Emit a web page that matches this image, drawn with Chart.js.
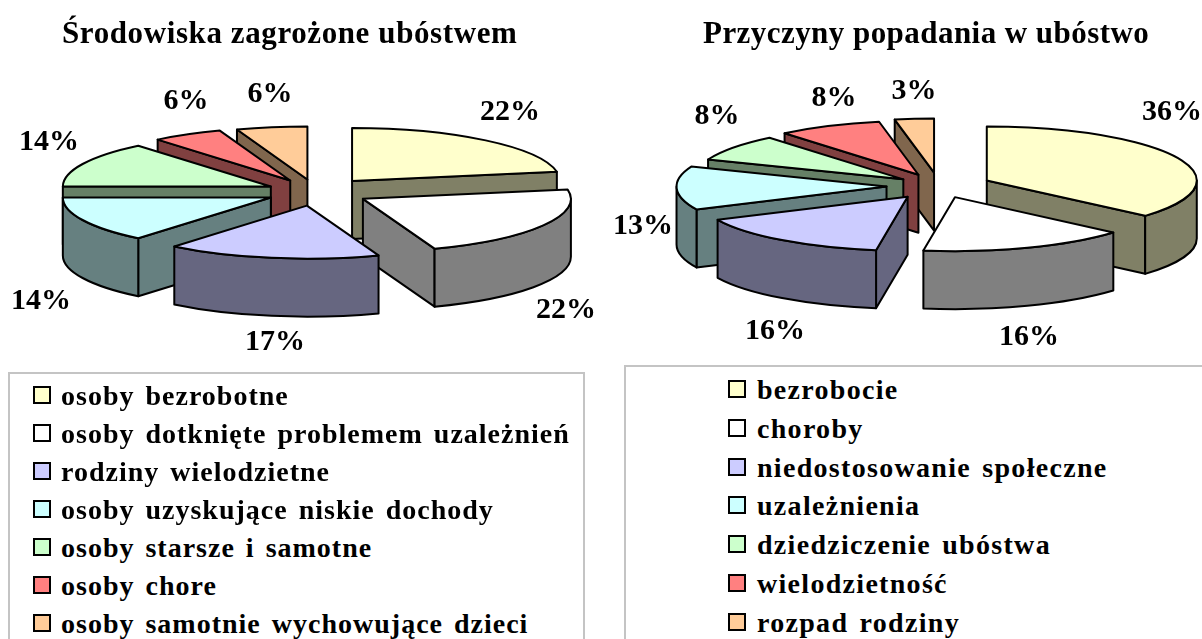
<!DOCTYPE html>
<html lang="pl">
<head>
<meta charset="utf-8">
<script src="https://cdn.jsdelivr.net/npm/chart.js@4/dist/chart.umd.js"></script>
<style>
html,body{margin:0;padding:0;background:#fff;width:1202px;height:639px;overflow:hidden;font-family:"Liberation Serif",serif;font-weight:bold;color:#000}
canvas{position:absolute;top:0}
.title{position:absolute;white-space:nowrap;font-size:31px;line-height:34px}
.box{position:absolute;border:2px solid #c4c4c4;background:#fff;box-sizing:border-box}
.row{position:absolute;white-space:nowrap;font-size:28px;line-height:30px;height:30px;word-spacing:3px}
.mark{position:absolute;width:18px;height:18px;border:2px solid #000;box-sizing:border-box}
</style>
</head>
<body>
<div class="box" style="left:8px;top:372px;width:577px;height:280px"></div>
<div class="box" style="left:624px;top:365px;width:590px;height:290px"></div>
<canvas id="c1"></canvas>
<canvas id="c2"></canvas>
<div id="html"></div>
<script>
const leftTitle = "Środowiska zagrożone ubóstwem";
const leftCategories = ["osoby bezrobotne","osoby dotknięte problemem uzależnień","rodziny wielodzietne","osoby uzyskujące niskie dochody","osoby starsze i samotne","osoby chore","osoby samotnie wychowujące dzieci"];
const leftValues = [22.2,22.2,16.6,14,14,5.5,5.5];

const rightTitle = "Przyczyny popadania w ubóstwo";
const rightCategories = ["bezrobocie","choroby","niedostosowanie społeczne","uzależnienia","dziedziczenie ubóstwa","wielodzietność","rozpad rodziny"];
const rightValues = [36.4,16,15.6,13,8,8,3];

const topColors = ["#FFFFCC","#FFFFFF","#CCCCFF","#CCFFFF","#CCFFCC","#FF8080","#FFCC99"];
const wallColors = ["#808066","#808080","#666680","#668080","#668066","#804040","#80664D"];

const leftExplode = [.27,.26,.26,.24,.24,.25,.24];
const rightExplode = [.25,.22,.25,.25,.21,.23,.25];

const leftLabelAnchors = [[510,112],[566,310],[275,342],[41,301],[49,142],[186,101],[270,94]];
const rightLabelAnchors = [[1172,112],[1029,337],[775,331],[643,226],[717,116],[834,98],[914,91]];

const leftRows = [396,434,472,510,548,586,624];
const rightRows = [390,429,468,506,545,584,623];

const pie3d = {
  id:'pie3d',
  beforeDatasetDraw(chart,args,opts){
    const ctx=chart.ctx, arcs=args.meta.data;
    const sq=opts.squash, depth=opts.depth;
    const order=arcs.map((el,i)=>({el,i})).sort((a,b)=>
      Math.sin((a.el.startAngle+a.el.endAngle)/2)-Math.sin((b.el.startAngle+b.el.endAngle)/2));
    ctx.save();
    ctx.lineWidth=2; ctx.lineJoin='round'; ctx.strokeStyle='#000';
    for(const {el,i} of order){
      const s=el.startAngle,e=el.endAngle,R=el.outerRadius,mid=(s+e)/2,k=opts.explode[i];
      const ax=el.x+Math.cos(mid)*k*R, ay=el.y+Math.sin(mid)*k*R*sq;
      const rx=a=>ax+Math.cos(a)*R, ry=a=>ay+Math.sin(a)*R*sq;
      ctx.fillStyle=wallColors[i];
      const radial=a=>{
        ctx.beginPath();ctx.moveTo(ax,ay);ctx.lineTo(rx(a),ry(a));
        ctx.lineTo(rx(a),ry(a)+depth);ctx.lineTo(ax,ay+depth);ctx.closePath();ctx.fill();ctx.stroke();
      };
      if(Math.cos(s)<0) radial(s);
      if(Math.cos(e)>0) radial(e);
      const lo=Math.max(s,0),hi=Math.min(e,Math.PI);
      if(hi>lo){
        ctx.beginPath();
        ctx.ellipse(ax,ay,R,R*sq,0,lo,hi);
        ctx.ellipse(ax,ay+depth,R,R*sq,0,hi,lo,true);
        ctx.closePath();ctx.fill();ctx.stroke();
      }
      ctx.save();
      ctx.translate(ax,ay);ctx.scale(1,sq);ctx.translate(-el.x,-el.y);
      el.draw(ctx);
      ctx.restore();
      ctx.beginPath();ctx.moveTo(ax,ay);ctx.ellipse(ax,ay,R,R*sq,0,s,e);ctx.closePath();ctx.stroke();
    }
    ctx.restore();
    return false;
  },
  afterDatasetsDraw(chart,args,opts){
    const ctx=chart.ctx, vals=chart.data.datasets[0].data, left=chart.canvas.offsetLeft;
    ctx.save();
    ctx.font='bold 30px "Liberation Serif"';
    ctx.fillStyle='#000';ctx.textAlign='center';ctx.textBaseline='middle';
    vals.forEach((v,i)=>ctx.fillText(Math.round(v)+'%',opts.anchors[i][0]-left,opts.anchors[i][1]));
    ctx.restore();
  }
};

function makePie(id,left,width,height,padLeft,radius,labels,values,pluginOpts){
  const cv=document.getElementById(id);
  cv.style.left=left+'px';
  cv.width=width;cv.height=height;
  cv.style.width=width+'px';cv.style.height=height+'px';
  return new Chart(cv,{
    type:'pie',
    data:{labels,datasets:[{data:values,backgroundColor:topColors,borderWidth:0}]},
    options:{
      responsive:false,animation:false,events:[],
      radius,cutout:0,rotation:0,
      layout:{padding:{left:padLeft,right:0,top:0,bottom:0}},
      plugins:{legend:{display:false},tooltip:{enabled:false},title:{display:false},pie3d:pluginOpts}
    },
    plugins:[pie3d]
  });
}
makePie('c1',0,601,384,31,208,leftCategories,leftValues,{squash:.255,depth:58,explode:leftExplode,anchors:leftLabelAnchors});
makePie('c2',601,601,372,75,210,rightCategories,rightValues,{squash:.257,depth:58,explode:rightExplode,anchors:rightLabelAnchors});

const host=document.getElementById('html');
function addTitle(t,x,sp){const d=document.createElement('div');d.className='title';d.style.left=x+'px';d.style.top='16px';d.style.letterSpacing=sp+'px';d.textContent=t;host.appendChild(d);}
addTitle(leftTitle,62,.6);addTitle(rightTitle,703,.45);
function addLegend(cats,rows,mx,tx,sp){
  cats.forEach((c,i)=>{
    const m=document.createElement('div');m.className='mark';
    m.style.left=mx+'px';m.style.top=(rows[i]-10)+'px';m.style.background=topColors[i];host.appendChild(m);
    const r=document.createElement('div');r.className='row';r.textContent=c;
    r.style.left=tx+'px';r.style.top=(rows[i]-15)+'px';r.style.letterSpacing=sp+'px';host.appendChild(r);
  });
}
addLegend(leftCategories,leftRows,33,61,1.0);
addLegend(rightCategories,rightRows,728,757,1.3);
</script>
</body>
</html>
